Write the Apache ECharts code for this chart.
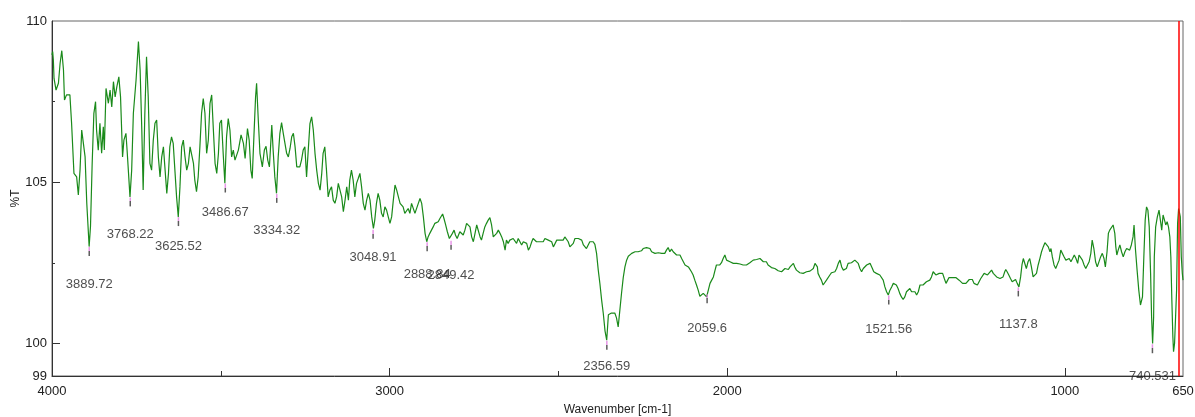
<!DOCTYPE html>
<html>
<head>
<meta charset="utf-8">
<script src="https://cdn.jsdelivr.net/npm/echarts@6/dist/echarts.min.js"></script>
<style>
html, body { margin: 0; padding: 0; background: #fff; }
#main { width: 1195px; height: 417px; }
</style>
</head>
<body>
<div id="main"></div>
<script>
// Spectrum: [wavenumber cm-1, %T]
var spectrum = [
  [4000,108.95],[3998,109.05],[3996,108.79],[3994,108.22],[3988,107.86],[3981,108.07],[3976,108.69],[3971,109.08],
  [3966,108.48],[3963,107.55],[3957,107.71],[3947,107.71],[3942,106.83],[3935,105.28],[3927,105.17],[3922,104.61],
  [3917,105.38],[3912,106.62],[3907,106.67],[3902,105.79],[3897,104.35],[3890,103.01],[3886,103.63],[3881,105.59],
  [3876,107.14],[3871,107.50],[3868,106.62],[3863,106.00],[3858,106.83],[3853,105.90],[3848,106.72],[3845,106.00],
  [3840,107.91],[3833,107.45],[3828,107.86],[3823,107.34],[3818,108.12],[3813,107.65],[3808,107.96],[3802,108.27],
  [3797,107.65],[3791,105.79],[3787,106.31],[3781,106.52],[3777,105.90],[3769,104.55],[3764,105.38],[3759,107.14],
  [3751,108.17],[3744,109.36],[3739,108.48],[3734,106.62],[3730,104.76],[3725,107.14],[3720,108.89],[3715,107.65],
  [3710,105.59],[3705,105.38],[3700,106.31],[3695,106.83],[3690,106.93],[3685,105.79],[3680,105.17],[3675,105.79],
  [3670,106.10],[3665,105.38],[3660,104.66],[3655,105.28],[3651,106.10],[3646,106.41],[3641,106.21],[3636,105.38],
  [3631,104.55],[3626,103.93],[3621,104.86],[3616,106.10],[3611,106.31],[3606,105.79],[3601,105.38],[3596,105.59],
  [3591,106.10],[3586,106.10],[3581,105.59],[3577,105.07],[3572,104.71],[3567,105.17],[3562,106.10],[3557,107.14],
  [3552,107.60],[3547,107.14],[3542,105.90],[3537,106.31],[3532,107.45],[3527,107.71],[3522,106.62],[3517,105.59],
  [3512,105.28],[3507,105.90],[3503,106.83],[3498,106.93],[3493,105.90],[3488,104.97],[3483,106.41],[3478,106.98],
  [3473,106.62],[3468,105.79],[3463,106.00],
  [3458,105.69],[3448,106.00],[3440,106.47],[3433,106.21],[3428,105.74],[3421,106.67],[3416,106.31],[3411,105.38],
  [3407,105.12],[3402,106.41],[3397,107.65],[3394,108.07],[3389,106.93],[3384,105.90],[3377,105.48],[3371,106.00],
  [3366,106.12],[3361,105.69],[3356,105.48],[3349,106.78],[3345,106.00],[3340,105.17],[3335,104.66],[3330,105.79],
  [3325,106.52],[3320,106.85],[3315,106.52],[3310,106.21],[3305,105.90],[3300,105.79],[3295,106.05],[3290,106.41],
  [3285,106.52],[3280,106.10],[3275,105.48],[3271,105.48],[3266,105.48],[3261,105.69],[3256,106.00],[3251,106.10],
  [3246,105.17],[3241,106.00],[3236,106.82],[3231,107.03],[3226,106.62],[3221,105.90],[3216,105.38],[3211,104.97],
  [3206,104.76],[3201,105.28],[3197,105.90],[3192,106.10],[3187,105.38],[3182,104.55],[3177,104.76],[3172,104.86],
  [3167,104.45],[3162,104.35],[3157,104.55],[3152,104.97],[3147,104.92],[3142,104.55],[3137,104.09],[3132,104.45],
  [3127,104.86],[3122,104.45],[3118,105.07],[3113,105.38],[3108,105.07],[3103,104.55],[3098,104.97],[3093,105.12],
  [3088,105.28],[3083,104.86],[3078,104.35],[3073,104.14],[3068,104.45],[3063,104.66],[3058,104.45],[3053,103.93],
  [3048,103.57],[3044,103.83],[3039,104.35],[3034,104.66],[3029,104.45],[3024,104.04],[3019,103.93],[3014,104.24],
  [3009,104.14],[3004,103.93],[2999,103.73],[2994,103.93],[2989,104.45],[2984,104.92],[2979,104.76],[2974,104.55],
  [2969,104.35],[2964,104.40],[2960,104.24],[2955,104.04],[2950,104.04],[2945,104.19],[2940,104.04],[2935,104.35],
  [2930,104.40],[2925,104.04],[2920,104.04],[2915,104.35],[2910,104.50],[2905,104.35],
  [2900,103.93],[2895,103.42],[2890,103.16],[2886,103.31],[2881,103.42],[2876,103.52],[2871,103.62],[2866,103.73],
  [2861,103.68],[2856,103.78],[2851,103.88],[2846,103.93],[2843,104.02],[2839,103.88],[2834,103.68],[2829,103.47],
  [2823,103.26],[2819,103.21],[2814,103.42],[2809,103.52],[2805,103.37],[2800,103.26],[2795,103.31],[2792,103.47],
  [2787,103.52],[2782,103.37],[2777,103.52],[2772,103.73],[2767,103.78],[2762,103.62],[2757,103.31],[2752,103.16],
  [2747,103.42],[2742,103.68],[2737,103.62],[2732,103.31],[2728,103.21],[2723,103.42],[2718,103.62],[2713,103.73],
  [2708,103.83],[2703,103.91],[2698,103.68],[2693,103.31],[2688,103.26],[2683,103.42],[2678,103.52],[2673,103.42],
  [2668,103.31],[2663,103.16],[2658,102.90],[2654,103.21],[2649,103.11],[2644,103.21],[2639,103.16],[2634,103.26],
  [2629,103.21],[2624,103.11],[2619,103.26],[2614,103.16],[2609,103.06],[2604,103.16],[2599,103.21],[2594,103.11],
  [2589,102.90],[2584,103.00],[2579,103.16],[2575,103.26],[2570,103.21],[2565,103.16],[2560,103.11],[2555,103.16],
  [2550,103.21],[2545,103.16],[2540,103.26],[2535,103.21],[2530,103.21],[2525,103.26],[2520,103.16],[2515,103.00],
  [2510,103.00],[2505,103.21],[2500,103.26],[2496,103.21],[2491,103.26],[2486,103.21],[2481,103.31],[2476,103.26],
  [2471,103.16],[2466,103.00],[2461,102.95],[2456,103.11],[2451,103.26],[2446,103.31],[2441,103.26],[2436,103.31],
  [2431,103.21],[2426,103.06],[2422,103.00],[2417,102.95],[2412,103.00],[2407,103.16],[2402,103.21],[2397,103.16],
  [2392,103.08],[2387,102.80],[2382,102.28],[2377,101.85],[2372,101.35],[2367,100.93],[2362,100.40],[2357,100.11],
  [2352,100.90],[2348,100.95],[2343,100.95],[2339,101.00],[2333,100.95],[2328,100.80],[2323,100.52],[2318,101.04],
  [2313,101.57],[2308,102.05],[2303,102.38],[2298,102.59],[2293,102.71],[2288,102.75],[2283,102.80],[2278,102.80],
  [2273,102.85],[2269,102.80],[2264,102.85],[2259,102.90],[2254,102.88],[2249,102.95],[2244,102.95],[2239,102.98],
  [2234,102.95],[2229,102.95],[2224,102.85],[2219,102.82],[2214,102.80],[2209,102.80],[2204,102.82],[2199,102.85],
  [2194,102.80],[2190,102.85],[2185,102.80],[2180,102.90],[2175,102.98],[2170,102.85],[2165,102.93],[2160,102.85],
  [2155,102.80],[2150,102.75],[2145,102.80],[2140,102.75],[2135,102.64],[2130,102.54],[2125,102.44],[2120,102.38],
  [2115,102.38],[2111,102.33],[2106,102.23],[2101,102.13],[2096,101.97],[2091,101.82],[2086,101.66],[2081,101.47],
  [2076,101.51],[2071,101.56],[2066,101.61],[2061,101.45],[2056,101.66],[2051,101.87],[2046,101.97],[2041,102.07],
  [2036,102.28],[2032,102.44],[2027,102.49],[2022,102.44],[2017,102.51],[2012,102.64],[2007,102.75],[2002,102.59],
  [1997,102.54],[1992,102.54],[1987,102.54],[1982,102.49],[1977,102.51],[1972,102.49],[1967,102.51],[1962,102.47],
  [1958,102.49],[1953,102.44],[1948,102.38],[1943,102.44],[1938,102.49],[1933,102.51],[1928,102.54],[1923,102.59],
  [1918,102.57],[1913,102.61],[1908,102.59],[1903,102.64],[1898,102.61],[1893,102.54],[1888,102.51],[1884,102.54],
  [1879,102.44],[1874,102.38],[1869,102.36],[1864,102.38],[1859,102.33],[1854,102.28],[1849,102.26],[1844,102.28],
  [1839,102.23],[1834,102.28],[1829,102.33],[1824,102.33],[1819,102.30],[1814,102.38],[1809,102.44],[1804,102.49],
  [1800,102.38],[1795,102.28],[1790,102.23],[1785,102.20],[1780,102.23],[1775,102.18],[1770,102.16],[1765,102.23],
  [1760,102.28],[1755,102.25],
  [1750,102.23],[1745,102.33],[1740,102.49],[1737,102.54],[1733,102.38],[1731,102.18],[1726,102.07],[1721,101.97],
  [1716,101.82],[1711,101.82],[1706,101.97],[1701,102.02],[1696,102.13],[1691,102.20],[1686,102.20],[1681,102.23],
  [1676,102.33],[1671,102.49],[1666,102.59],[1661,102.38],[1656,102.28],[1652,102.28],[1647,102.33],[1642,102.49],
  [1637,102.47],[1632,102.51],[1627,102.54],[1622,102.59],[1617,102.61],[1612,102.49],[1607,102.33],[1602,102.23],
  [1597,102.33],[1592,102.38],[1587,102.44],[1582,102.38],[1577,102.49],[1575,102.51],[1570,102.33],[1566,102.23],
  [1563,102.18],[1558,102.18],[1553,102.20],[1548,102.13],[1543,102.07],[1538,101.97],[1533,101.76],[1528,101.61],
  [1523,101.51],[1518,101.66],[1513,101.76],[1508,101.87],[1503,101.92],[1499,101.82],[1494,101.71],[1489,101.56],
  [1484,101.45],[1479,101.37],[1474,101.45],[1469,101.61],[1464,101.66],[1459,101.71],[1454,101.61],[1449,101.66],
  [1444,101.61],[1439,101.51],[1434,101.61],[1429,101.82],[1424,101.87],[1420,101.82],[1415,101.87],[1410,101.92],
  [1405,101.87],[1400,101.97],[1395,102.07],[1390,102.23],[1387,102.26],[1382,102.13],[1377,102.07],[1372,102.18],
  [1367,102.23],[1362,102.18],[1357,102.02],[1352,101.87],[1347,101.97],[1343,102.05],[1338,102.07],[1333,102.05],
  [1328,102.02],[1323,102.05],[1318,102.02],[1313,101.97],[1308,101.92],[1303,101.87],[1298,101.82],[1293,101.87],
  [1288,101.92],[1283,101.99],[1278,102.05],[1274,101.99],[1269,101.87],[1264,101.82],[1259,101.82],[1254,101.92],
  [1249,102.02],[1244,102.07],[1239,102.18],[1234,102.20],[1229,102.13],[1224,102.10],
  [1217,102.28],[1212,102.18],[1207,102.13],[1202,102.07],[1197,102.13],[1192,102.02],[1188,101.97],[1183,102.07],
  [1178,102.23],[1175,102.30],[1171,102.23],[1166,102.13],[1161,102.02],[1156,101.92],[1151,101.97],[1146,101.99],
  [1141,101.87],[1136,101.76],[1131,102.07],[1127,102.44],[1123,102.64],[1118,102.59],[1114,102.33],[1109,102.54],
  [1104,102.64],[1099,102.38],[1094,102.07],[1089,102.05],[1084,102.18],[1079,102.44],[1074,102.64],[1069,102.85],
  [1064,103.00],[1059,103.13],[1054,103.11],[1049,103.00],[1044,102.85],[1041,102.95],[1037,102.69],[1032,102.44],
  [1027,102.33],[1022,102.33],[1017,102.59],[1012,102.90],[1007,102.95],[1002,102.69],[997,102.59],[992,102.54],
  [987,102.64],[982,102.54],[977,102.64],[972,102.75],[967,102.64],[962,102.49],[958,102.75],[953,102.80],
  [948,102.59],[943,102.44],[938,102.33],[933,102.33],[928,102.54],[923,102.80],[919,103.21],[914,102.95],
  [909,102.54],[904,102.38],[899,102.44],[894,102.69],[889,102.80],[884,102.64],[880,102.38],[875,102.85],
  [871,103.42],[867,103.52],[862,103.57],[857,103.68],[852,103.42],[849,103.00],[846,102.75],[842,102.90],
  [837,103.06],[832,102.85],[827,102.69],[822,102.85],[817,102.95],[813,102.90],[808,102.90],[803,103.06],
  [798,103.31],[795,103.68],[791,102.95],[786,102.28],[781,101.66],[776,101.20],[773,101.14],[770,101.45],
  [766,102.69],[762,103.83],[758,104.24],[754,104.14],[750,103.62],[746,102.18],[743,100.83],[740,100.01],
  [737,100.83],[735,102.69],[731,103.62],[726,103.93],[721,104.14],[717,103.83],[713,103.52],[709,103.99],
  [705,103.93],[701,103.68],[697,103.78],[693,103.62],[689,103.31],[686,102.69],[683,101.35],[680,100.21],
  [678,99.75],[675,100.01],[672,100.83],[669,101.66],[666,103.73],[663,104.19],[660,104.04],[658,103.93],
  [655,102.69],[652,102.18],[650,101.97]
];

// Picked peaks: where the mark sits, its %T, and the printed text
var peakPosition = [3889.72, 3768.22, 3625.52, 3486.67, 3334.32, 3048.91, 2888.84, 2818, 2356.59, 2059.6, 1521.56, 1137.8, 740.531];
var peakTransmittance = [103.01, 104.55, 103.94, 104.98, 104.66, 103.55, 103.16, 103.21, 100.11, 101.55, 101.51, 101.76, 100.0];
var peakLabel = ['3889.72', '3768.22', '3625.52', '3486.67', '3334.32', '3048.91', '2888.84', '2849.42', '2356.59', '2059.6', '1521.56', '1137.8', '740.531'];

var xTickLabels = [4000, 3000, 2000, 1000, 650];
var xMajorTicks = [3000, 2000, 1000];
var xMinorTicks = [3500, 2500, 1500];
var yTickLabels = [99, 100, 105, 110];
var yMajorTicks = [100, 105];
var yMinorTicks = [102.5, 107.5];
var cursorPosition = 662;

// distance (px) from each peak down to its label centre
var labelDrop = [38, 38, 30, 29, 37, 28, 33, 35, 26, 35, 34, 37, 33];

var fontFam = '"Liberation Sans", Arial, sans-serif';

var peakData = peakPosition.map(function (p, i) {
    return {
        value: [p, peakTransmittance[i]],
        label: { offset: [0, labelDrop[i] - 5] }
    };
});

var grafico = echarts.init(document.getElementById('main'));

var plainNumber = function (v) { return String(v); };

var option = {
    animation: false,
    backgroundColor: '#fff',
    grid: {
        left: 52, right: 12, top: 21, bottom: 41,
        containLabel: false,
        outerBoundsMode: 'none',
        show: true,
        borderColor: '#666',
        borderWidth: 1
    },
    xAxis: [{
        type: 'value',
        inverse: true,
        min: 650,
        max: 4000,
        name: 'Wavenumber [cm-1]',
        nameLocation: 'middle',
        nameGap: 28,
        nameMoveOverlap: false,
        nameTextStyle: { fontFamily: fontFam, fontSize: 12, color: '#222' },
        axisLine: { lineStyle: { color: '#333' } },
        axisTick: { inside: true, length: 8, customValues: xMajorTicks, lineStyle: { color: '#333' } },
        axisLabel: { customValues: xTickLabels, formatter: plainNumber, margin: 9, fontFamily: fontFam, fontSize: 13, color: '#222' },
        splitLine: { show: false }
    }, {
        // minor ticks
        type: 'value',
        inverse: true,
        min: 650,
        max: 4000,
        position: 'bottom',
        axisLine: { show: false },
        axisTick: { inside: true, length: 5, customValues: xMinorTicks, lineStyle: { color: '#333' } },
        axisLabel: { show: false },
        splitLine: { show: false }
    }],
    yAxis: [{
        type: 'value',
        min: 99,
        max: 110,
        name: '%T',
        nameLocation: 'middle',
        nameGap: 30,
        nameMoveOverlap: false,
        nameTextStyle: { fontFamily: fontFam, fontSize: 12, color: '#222' },
        axisLine: { show: true, lineStyle: { color: '#333' } },
        axisTick: { inside: true, length: 8, customValues: yMajorTicks, lineStyle: { color: '#333' } },
        axisLabel: { customValues: yTickLabels, formatter: plainNumber, margin: 5, fontFamily: fontFam, fontSize: 13, color: '#222' },
        splitLine: { show: false }
    }, {
        type: 'value',
        min: 99,
        max: 110,
        position: 'left',
        axisLine: { show: false },
        axisTick: { inside: true, length: 3, customValues: yMinorTicks, lineStyle: { color: '#333' } },
        axisLabel: { show: false },
        splitLine: { show: false }
    }],
    series: [{
        name: 'Spectrum',
        type: 'line',
        symbol: 'none',
        smooth: false,
        lineStyle: { color: '#1a8a1a', width: 1.2 },
        data: spectrum,
        markLine: {
            silent: true,
            symbol: 'none',
            label: { show: false },
            lineStyle: { color: '#ff0000', width: 1.5, type: 'solid' },
            data: [{ xAxis: cursorPosition }]
        },
        z: 3
    }, {
        name: 'Peaks',
        type: 'scatter',
        symbol: 'rect',
        symbolSize: [1.5, 9],
        symbolOffset: [0, 5],
        itemStyle: {
            color: {
                type: 'linear', x: 0, y: 0, x2: 0, y2: 1,
                colorStops: [
                    { offset: 0, color: '#e27be2' },
                    { offset: 0.45, color: '#e27be2' },
                    { offset: 0.45, color: '#333' },
                    { offset: 1, color: '#333' }
                ]
            }
        },
        label: {
            show: true,
            position: 'inside',
            formatter: function (p) { return peakLabel[p.dataIndex]; },
            fontFamily: fontFam,
            fontSize: 13,
            color: '#222'
        },
        data: peakData,
        z: 4
    }]
};

grafico.setOption(option);
</script>
</body>
</html>
